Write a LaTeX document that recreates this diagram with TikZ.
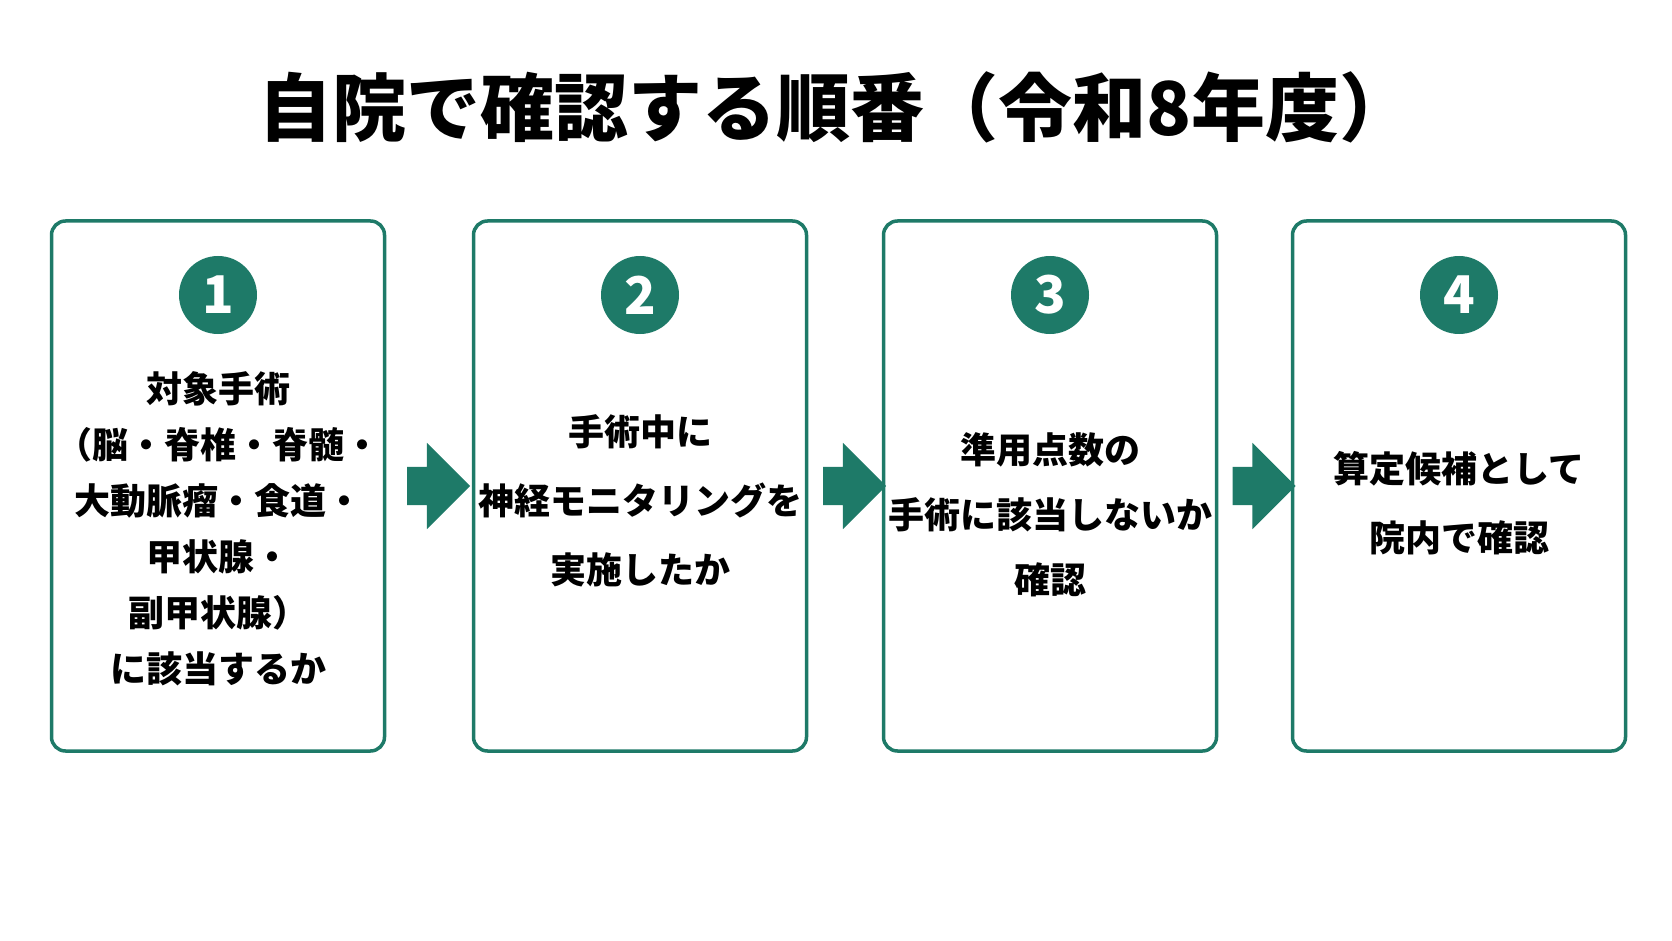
\documentclass[tikz,border=0pt]{standalone}
\usepackage{fontspec}
\setmainfont{Noto Sans CJK JP}
\usetikzlibrary{shapes.arrows,positioning,calc}
\definecolor{teal}{HTML}{1E7A68}

\begin{document}
\begin{tikzpicture}[
        x=1pt, y=-1pt,
        stage/.style={rectangle, draw=teal, line width=3.5pt, rounded corners=14pt, minimum width=333pt, minimum height=530pt},
        num/.style={circle, fill=teal, text=white, minimum size=78pt, inner sep=0pt, font=\fontsize{52}{52}\selectfont\bfseries},
        desc/.style={align=center, font=\fontsize{36}{56}\selectfont\bfseries},
        flow/.style={single arrow, fill=teal, draw=none, minimum height=63pt, inner xsep=0pt, inner ysep=19pt, single arrow head extend=24pt}
      ]
        \useasboundingbox (0,0) rectangle (1672,941);

        % Title
        \node[font=\fontsize{74}{74}\selectfont\bfseries] (title) at (836,107) {自院で確認する順番（令和8年度）};

        % Boxes
        \node[stage] (s1) at (218,486) {};
        \node[stage] (s2) at (640,486) {};
        \node[stage] (s3) at (1050,486) {};
        \node[stage] (s4) at (1459,486) {};

        % Numbers
        \node[num] (n1) at (218,295) {1};
        \node[num] (n2) at (640,295) {2};
        \node[num] (n3) at (1050,295) {3};
        \node[num] (n4) at (1459,295) {4};

        % Texts
        \node[desc] (t1) at (218,529) {対象手術\\（脳・脊椎・脊髄・\\大動脈瘤・食道・\\甲状腺・\\副甲状腺）\\に該当するか};
        \node[desc, font=\fontsize{36}{69}\selectfont\bfseries] (t2) at (640,501) {手術中に\\神経モニタリングを\\実施したか};
        \node[desc, font=\fontsize{36}{65}\selectfont\bfseries] (t3) at (1050,515) {準用点数の\\手術に該当しないか\\確認};
        \node[desc, font=\fontsize{36}{69}\selectfont\bfseries] (t4) at (1459,503) {算定候補として\\院内で確認};

        % Arrows
        \node[flow] (a1) at ($(s1.east)!0.5!(s2.west)$) {};
        \node[flow] (a2) at ($(s2.east)!0.5!(s3.west)$) {};
        \node[flow] (a3) at ($(s3.east)!0.5!(s4.west)$) {};
      \end{tikzpicture}
\end{document}
